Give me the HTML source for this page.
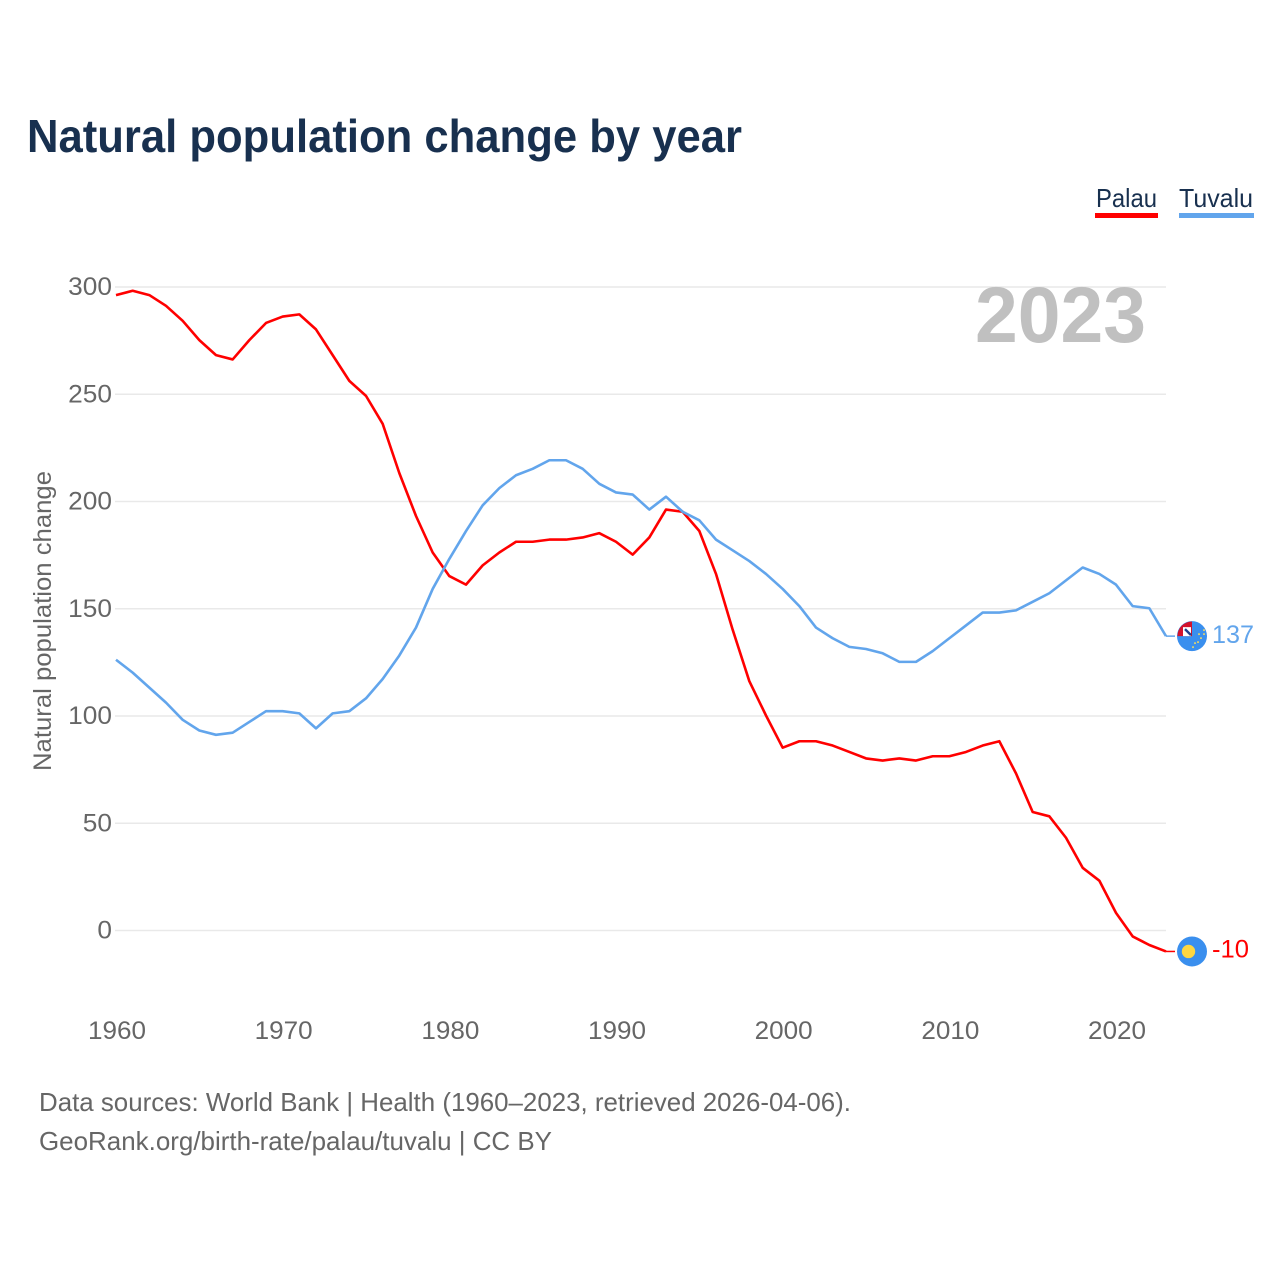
<!DOCTYPE html>
<html lang="en">
<head>
<meta charset="utf-8">
<title>Natural population change by year</title>
<style>
html,body{margin:0;padding:0;background:#fff;width:1280px;height:1280px;overflow:hidden}
svg{display:block;font-family:"Liberation Sans",sans-serif}
</style>
</head>
<body>
<svg id="chart" xmlns="http://www.w3.org/2000/svg" width="1280" height="1280" viewBox="0 0 1280 1280">
  <rect width="1280" height="1280" fill="#fff"/>
  <text x="27" y="152" font-size="46" font-weight="700" fill="#18304f" textLength="715" lengthAdjust="spacingAndGlyphs">Natural population change by year</text>
  <g>
    <g>
      <text x="1096" y="207" font-size="26" fill="#18304f" textLength="61" lengthAdjust="spacingAndGlyphs">Palau</text>
      <rect x="1095" y="213" width="63" height="5" fill="#ff0000"/>
    </g>
    <g>
      <text x="1179" y="207" font-size="26" fill="#18304f" textLength="74" lengthAdjust="spacingAndGlyphs">Tuvalu</text>
      <rect x="1179" y="213" width="75" height="5" fill="#62a5ec"/>
    </g>
  </g>
  <g id="grid"></g>
  <text x="975" y="342" font-size="79" font-weight="700" fill="#c0c0c0" textLength="171" lengthAdjust="spacingAndGlyphs">2023</text>
  <g id="yticks"></g>
  <g id="xticks"></g>
  <text transform="translate(51,771) rotate(-90)" font-size="25" fill="#666666" textLength="300" lengthAdjust="spacingAndGlyphs">Natural population change</text>
  <g id="series"></g>
  <g id="ends"></g>
  <text x="39" y="1111" font-size="26" fill="#666666" textLength="812" lengthAdjust="spacingAndGlyphs">Data sources: World Bank | Health (1960–2023, retrieved 2026-04-06).</text>
  <text x="39" y="1150" font-size="26" fill="#666666" textLength="513" lengthAdjust="spacingAndGlyphs">GeoRank.org/birth-rate/palau/tuvalu | CC BY</text>
</svg>
<script>
const startYear = 1960;
const xTickLabels = [1960, 1970, 1980, 1990, 2000, 2010, 2020];
const yTickLabels = [0, 50, 100, 150, 200, 250, 300];
const palauValues = [296,298,296,291,284,275,268,266,275,283,286,287,280,268,256,249,236,213,193,176,165,161,170,176,181,181,182,182,183,185,181,175,183,196,195,186,166,140,116,100,85,88,88,86,83,80,79,80,79,81,81,83,86,88,73,55,53,43,29,23,8,-3,-7,-10];
const tuvaluValues = [126,120,113,106,98,93,91,92,97,102,102,101,94,101,102,108,117,128,141,159,173,186,198,206,212,215,219,219,215,208,204,203,196,202,195,191,182,177,172,166,159,151,141,136,132,131,129,125,125,130,136,142,148,148,149,153,157,163,169,166,161,151,150,137];

const NS = 'http://www.w3.org/2000/svg';
function xScale(year) { return 116 + (year - 1960) * (1000 / 60); }
function yScale(v) { return 930.5 - v * (643.5 / 300); }
function lineY(v) { return yScale(v) - 0.5; }
function make(tag, attrs, parent, text) {
  const el = document.createElementNS(NS, tag);
  for (const k in attrs) el.setAttribute(k, attrs[k]);
  if (text !== undefined) el.textContent = text;
  parent.appendChild(el);
  return el;
}

const gridG = document.getElementById('grid');
const yG = document.getElementById('yticks');
yTickLabels.forEach(function (t) {
  const line = make('line', { x1: 115, x2: 1166, y1: yScale(t), y2: yScale(t), stroke: '#e9e9e9', 'stroke-width': 1.5 }, gridG);
  
  
  const label = make('text', { x: 112, y: yScale(t) + 8, 'text-anchor': 'end', 'font-size': 25, fill: '#666666', textLength: String(t).length * 14.6, lengthAdjust: 'spacingAndGlyphs' }, yG, String(t));
  
  
});

const xG = document.getElementById('xticks');
xTickLabels.forEach(function (t) {
  const label = make('text', { x: xScale(t) - 28, y: 1039, 'font-size': 25, fill: '#666666', textLength: 58, lengthAdjust: 'spacingAndGlyphs' }, xG, String(t));
  
  
});

function linePoints(values) {
  return values.map(function (v, i) {
    return xScale(startYear + i).toFixed(2) + ',' + lineY(v).toFixed(2);
  }).join(' ');
}
const seriesG = document.getElementById('series');
const endsG = document.getElementById('ends');

const palauLine = make('polyline', { points: linePoints(palauValues), fill: 'none', stroke: '#ff0000', 'stroke-width': 2.6, 'stroke-linejoin': 'round' }, seriesG);


const tuvaluLine = make('polyline', { points: linePoints(tuvaluValues), fill: 'none', stroke: '#62a5ec', 'stroke-width': 2.6, 'stroke-linejoin': 'round' }, seriesG);



const lastYear = startYear + palauValues.length - 1;
const palauLast = palauValues[palauValues.length - 1];
const tuvaluLast = tuvaluValues[tuvaluValues.length - 1];
const px = xScale(lastYear);
const pEndY = lineY(palauLast);
const tEndY = lineY(tuvaluLast);

const palauTail = make('line', { x1: px, x2: px + 9, y1: pEndY, y2: pEndY, stroke: '#ff0000', 'stroke-width': 1.5 }, endsG);


const tuvaluTail = make('line', { x1: px, x2: px + 9, y1: tEndY, y2: tEndY, stroke: '#62a5ec', 'stroke-width': 1.5 }, endsG);



/* Tuvalu flag marker */
const cx = px + 26;
const tFlag = make('g', {}, endsG);


make('circle', { cx: cx, cy: tEndY, r: 15, fill: '#3a8fee' }, tFlag);
make('path', { d: 'M' + cx + ' ' + tEndY + 'H' + (cx - 14.6) + 'A14.6 14.6 0 0 1 ' + cx + ' ' + (tEndY - 14.6) + 'Z', fill: '#d3122c' }, tFlag);
make('rect', { x: cx - 9, y: tEndY - 9, width: 8, height: 9, fill: '#ffffff' }, tFlag);
make('path', { d: 'M' + (cx - 7) + ' ' + (tEndY - 7) + 'L' + (cx - 1) + ' ' + (tEndY - 1), stroke: '#1f3f8f', 'stroke-width': 2.4 }, tFlag);
[[12, -6], [7, -2], [12, -2], [9, 2], [6, 6], [3, 7], [1, 11]].forEach(function (s) {
  make('circle', { cx: cx + s[0], cy: tEndY + s[1], r: 1, fill: '#e8d66a' }, tFlag);
});

/* Palau flag marker */
const pFlag = make('g', {}, endsG);


make('circle', { cx: cx, cy: pEndY, r: 15, fill: '#3a8fee' }, pFlag);
make('circle', { cx: cx - 3.5, cy: pEndY, r: 6.7, fill: '#ffd740' }, pFlag);

const tuvaluValueLabel = make('text', { x: px + 46, y: tEndY + 7, 'font-size': 25, fill: '#62a5ec', textLength: 42, lengthAdjust: 'spacingAndGlyphs' }, endsG, String(tuvaluLast));


const palauValueLabel = make('text', { x: px + 46, y: pEndY + 6, 'font-size': 25, fill: '#ff0000', textLength: 37, lengthAdjust: 'spacingAndGlyphs' }, endsG, String(palauLast));


</script>
</body>
</html>
